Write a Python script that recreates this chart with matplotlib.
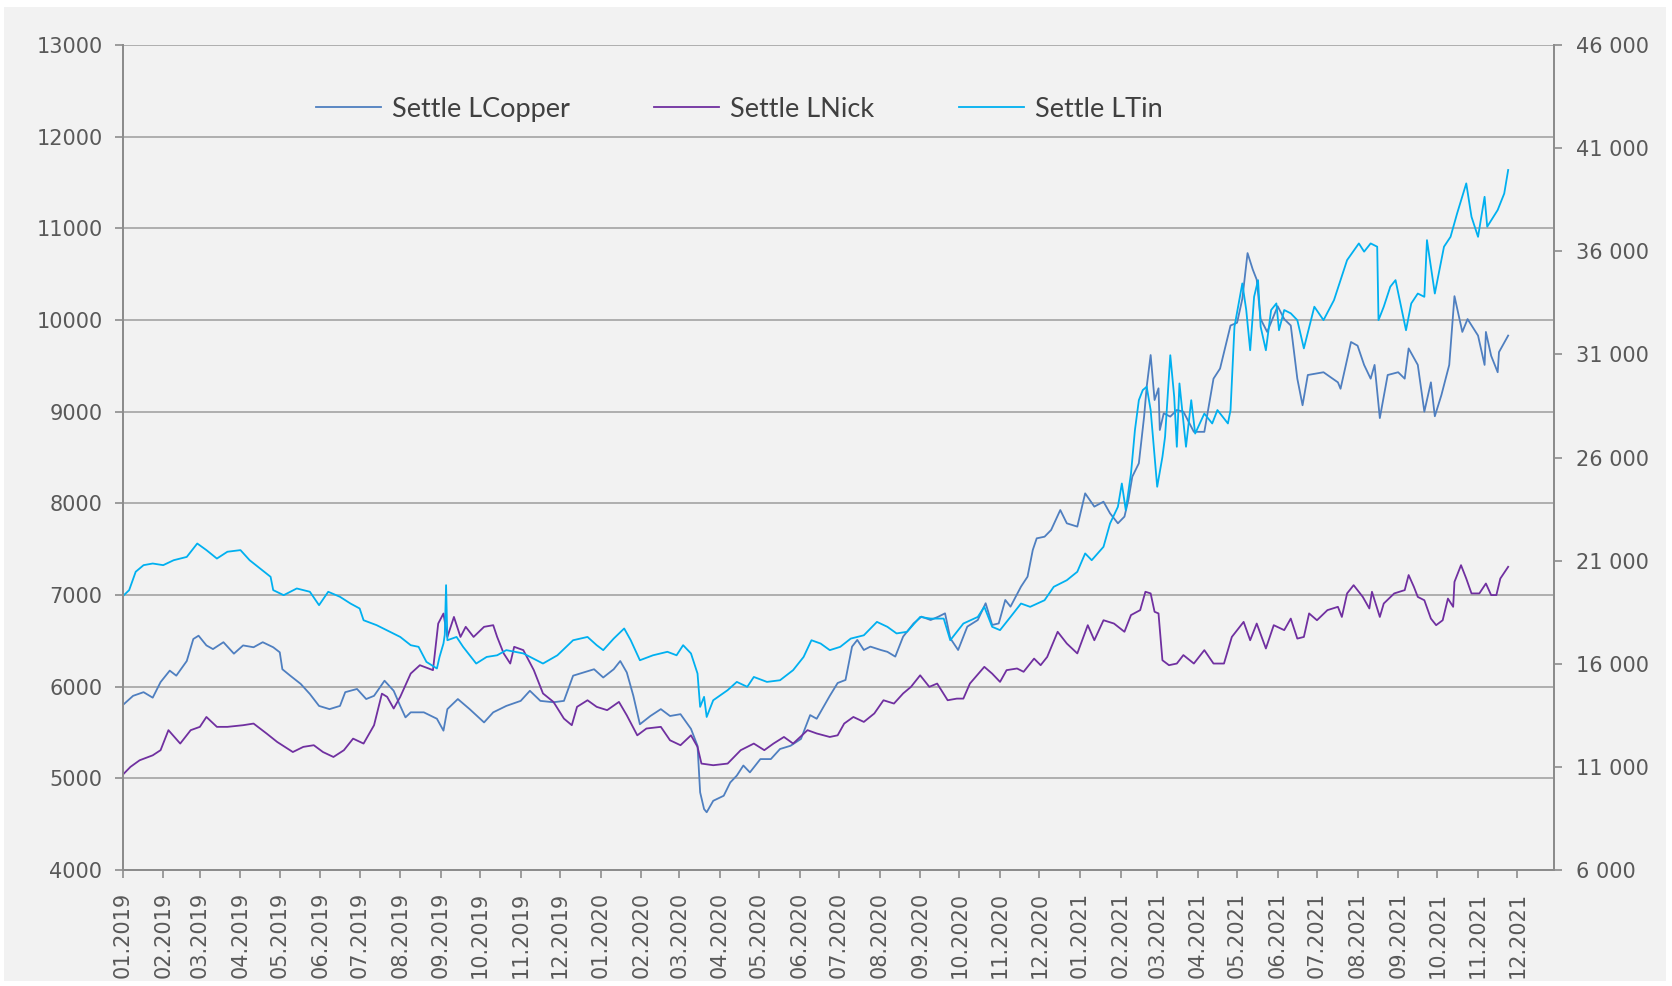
import matplotlib
matplotlib.use("Agg")
import matplotlib.pyplot as plt
import matplotlib.dates as mdates
from matplotlib.ticker import FuncFormatter, MultipleLocator, FixedLocator
import numpy as np
import pandas as pd

START = "2019-01-01"

# ---- data (x = days since 2019-01-01) ----
copper_days = [1, 8, 16, 23, 29, 36, 41, 49, 54, 58, 64, 69, 77, 85, 92, 100, 107, 115, 120, 122,
               128, 136, 143, 150, 158, 166, 170, 179, 186, 192, 200, 207, 212, 216, 220, 230, 240,
               245, 248, 256, 265, 276, 283, 293, 304, 311, 319, 329, 337, 344, 352, 360, 367, 375,
               380, 385, 390, 395, 403, 411, 418, 426, 434, 439, 441, 444, 446, 451, 459, 464, 469,
               474, 479, 487, 495, 502, 510, 518, 525, 530, 536, 540, 546, 552, 557, 561, 566, 571,
               579, 584, 590, 596, 604, 610, 617, 623, 628, 632, 638, 645, 653, 659, 664, 669, 674,
               678, 686, 691, 695, 698, 704, 709, 716, 721, 729, 735, 742, 749, 754, 760, 765, 768,
               771, 776, 780, 782, 785, 788, 791, 792, 795, 800, 805, 810, 818, 826, 833, 838, 846,
               851, 855, 859, 863, 866, 869, 874, 882, 887, 892, 897, 901, 905, 917, 928, 930, 938,
               943, 948, 953, 956, 960, 966, 974, 979, 982, 989, 994, 999, 1002, 1007, 1013, 1017,
               1023, 1027, 1035, 1040, 1041, 1045, 1050, 1051, 1058]
copper_vals = [5810, 5900, 5940, 5880, 6050, 6175, 6120, 6280, 6520, 6556, 6450, 6410, 6485, 6360,
               6450, 6430, 6485, 6430, 6375, 6190, 6120, 6030, 5920, 5790, 5755, 5790, 5940, 5975,
               5865, 5900, 6065, 5955, 5790, 5665, 5720, 5720, 5650, 5520, 5755, 5865, 5755, 5610,
               5720, 5790, 5845, 5955, 5845, 5830, 5845, 6120, 6155, 6190, 6100, 6190, 6280, 6155,
               5900, 5590, 5680, 5755, 5680, 5700, 5540, 5355, 4847, 4665, 4630, 4755, 4810, 4955,
               5030, 5140, 5065, 5210, 5210, 5320, 5355, 5430, 5690, 5650, 5800, 5900, 6040, 6073,
               6437, 6510, 6400, 6437, 6400, 6380, 6328, 6546, 6690, 6764, 6727, 6764, 6800, 6528,
               6400, 6655, 6727, 6910, 6673, 6690, 6946, 6873, 7091, 7200, 7491, 7618, 7636, 7709,
               7927, 7782, 7746, 8109, 7964, 8018, 7891, 7782, 7855, 8036, 8291, 8437, 8946, 9273,
               9618, 9127, 9255, 8800, 8982, 8946, 9018, 9000, 8780, 8780, 9360, 9470, 9940, 9970,
               10230, 10730, 10550, 10440, 10010, 9870, 10150, 10010, 9940, 9360, 9070, 9400, 9430,
               9320, 9250, 9760, 9720, 9510, 9360, 9510, 8930, 9400, 9430, 9360, 9690, 9510, 9000,
               9320, 8950, 9180, 9510, 10260, 9870, 10010, 9830, 9510, 9870, 9610, 9430, 9650, 9830]

nickel_days = [1, 6, 13, 23, 29, 35, 44, 52, 59, 64, 72, 80, 92, 100, 110, 118, 130, 138, 146, 153,
               161, 169, 176, 184, 192, 198, 202, 207, 212, 220, 227, 237, 241, 245, 248, 253, 258,
               262, 268, 276, 283, 286, 291, 296, 299, 306, 314, 321, 329, 337, 343, 347, 355, 362,
               370, 379, 385, 393, 400, 411, 418, 426, 434, 439, 442, 451, 462, 472, 482, 490, 497,
               505, 512, 523, 530, 540, 546, 551, 558, 566, 574, 581, 589, 596, 602, 609, 616, 622,
               630, 637, 642, 647, 658, 664, 670, 675, 683, 688, 696, 701, 706, 714, 721, 729, 737,
               742, 749, 757, 765, 770, 777, 781, 785, 788, 791, 794, 799, 805, 810, 818, 826, 833,
               841, 847, 856, 861, 866, 873, 879, 887, 892, 897, 902, 906, 912, 920, 928, 931, 935,
               940, 947, 952, 954, 960, 963, 971, 979, 982, 986, 989, 994, 999, 1003, 1008, 1012,
               1016, 1017, 1022, 1026, 1030, 1036, 1041, 1045, 1049, 1052, 1058]
nickel_vals = [10675, 11000, 11320, 11560, 11810, 12780, 12130, 12780, 12940, 13420, 12940, 12940,
               13020, 13100, 12615, 12210, 11720, 11970, 12050, 11720, 11480, 11810, 12370, 12130,
               13020, 14550, 14395, 13830, 14395, 15525, 15930, 15690, 17950, 18435, 17300, 18270,
               17300, 17790, 17300, 17790, 17870, 17300, 16500, 16010, 16820, 16660, 15690, 14560,
               14150, 13340, 13020, 13910, 14230, 13910, 13750, 14150, 13500, 12530, 12860, 12940,
               12290, 12050, 12530, 11970, 11160, 11080, 11160, 11810, 12130, 11810, 12130, 12450,
               12130, 12780, 12620, 12450, 12530, 13100, 13420, 13180, 13590, 14230, 14070, 14560,
               14880, 15440, 14880, 15040, 14230, 14310, 14310, 15040, 15850, 15520, 15120, 15690,
               15770, 15610, 16250, 15930, 16330, 17550, 16980, 16500, 17870, 17140, 18110, 17950,
               17550, 18360, 18600, 19490, 19410, 18520, 18440, 16170, 15930, 16010, 16420, 16010,
               16660, 16010, 16010, 17300, 18030, 17140, 17950, 16740, 17870, 17630, 18190, 17220,
               17300, 18440, 18110, 18600, 18760, 18270, 19410, 19810, 19240, 18680, 19490, 18270,
               18920, 19410, 19570, 20300, 19730, 19240, 19080, 18190, 17870, 18110, 19160, 18760,
               19970, 20780, 20130, 19410, 19410, 19890, 19330, 19330, 20130, 20700]

tin_days = [1, 5, 10, 16, 23, 31, 39, 49, 57, 64, 72, 80, 90, 97, 105, 113, 115, 123, 133, 143, 150,
            157, 166, 174, 181, 184, 194, 204, 212, 220, 226, 232, 240, 242, 245, 246, 247, 248, 255,
            260, 270, 278, 286, 293, 306, 321, 332, 344, 355, 362, 367, 375, 383, 388, 395, 405, 416,
            423, 428, 434, 439, 441, 444, 446, 451, 462, 469, 477, 482, 492, 502, 512, 520, 526, 533,
            540, 548, 556, 566, 576, 584, 591, 599, 609, 617, 627, 632, 642, 653, 658, 664, 670, 678,
            686, 693, 704, 711, 721, 729, 735, 740, 749, 754, 760, 763, 766, 770, 773, 776, 779, 782,
            785, 790, 794, 796, 800, 803, 805, 807, 812, 816, 819, 826, 832, 836, 844, 846, 849, 855,
            858, 861, 864, 867, 869, 873, 877, 881, 883, 887, 892, 897, 902, 910, 917, 925, 930, 935,
            944, 948, 953, 958, 959, 963, 968, 972, 980, 984, 989, 994, 996, 1002, 1009, 1014, 1019,
            1026, 1030, 1035, 1040, 1042, 1050, 1055, 1058]
tin_vals = [19325, 19570, 20460, 20780, 20860, 20780, 21020, 21180, 21830, 21510, 21100, 21430,
            21510, 21020, 20620, 20215, 19570, 19325, 19650, 19490, 18840, 19490, 19245, 18920,
            18680, 18110, 17870, 17550, 17300, 16900, 16820, 16090, 15770, 16330, 16980, 17400,
            19810, 17140, 17300, 16820, 16010, 16330, 16410, 16660, 16500, 16010, 16410, 17140,
            17300, 16900, 16660, 17220, 17710, 17140, 16170, 16410, 16580, 16410, 16900, 16500,
            15525, 13910, 14395, 13420, 14230, 14720, 15120, 14880, 15360, 15120, 15200, 15690,
            16330, 17140, 16980, 16660, 16820, 17220, 17380, 18030, 17790, 17470, 17550, 18270,
            18190, 18190, 17140, 17950, 18270, 18760, 17790, 17630, 18270, 18920, 18760, 19080,
            19730, 20050, 20460, 21350, 21020, 21670, 22800, 23610, 24740, 23450, 25230, 27326,
            28780, 29270, 29430, 28300, 24580, 26030, 27000, 30960, 28940, 26520, 29590, 26520,
            28780, 27160, 28130, 27650, 28300, 27650, 28300, 32340, 34440, 33150, 31200, 33790,
            34600, 32340, 31200, 33150, 33470, 32170, 33150, 32990, 32660, 31290, 33310, 32660,
            33630, 34600, 35570, 36380, 35980, 36380, 36220, 32660, 33310, 34280, 34600, 32170,
            33470, 33950, 33790, 36540, 33950, 36220, 36700, 37830, 39290, 37670, 36700, 38640,
            37190, 38000, 38800, 39940]

labels = ["Settle LCopper", "Settle LNick", "Settle LTin"]
colors = ["#4F7FC0", "#7030A0", "#00B0F0"]
left_ticks = list(range(4000, 13001, 1000))
right_ticks = list(range(6000, 46001, 5000))


def to_dates(days):
    return pd.Timestamp(START) + pd.to_timedelta(days, unit="D")


W, H = 1672, 986
fig = plt.figure(figsize=(W / 100, H / 100), dpi=100, facecolor="white")
bg = plt.Rectangle((4 / W, 5 / H), 1 - 10 / W, 1 - 12 / H, transform=fig.transFigure,
                   facecolor="#F2F2F2", edgecolor="none", zorder=-10)
fig.add_artist(bg)

ax = fig.add_axes([122.6 / W, 1 - 870 / H, (1554 - 122.6) / W, (870 - 45) / H])
ax.set_facecolor("#F2F2F2")
ax2 = ax.twinx()

l1, = ax.plot(to_dates(copper_days), copper_vals, color=colors[0], lw=1.3)
l2, = ax2.plot(to_dates(nickel_days), nickel_vals, color=colors[1], lw=1.3)
l3, = ax2.plot(to_dates(tin_days), tin_vals, color=colors[2], lw=1.3)

ax.set_ylim(left_ticks[0], left_ticks[-1])
ax2.set_ylim(right_ticks[0], right_ticks[-1])
ax.set_xlim(pd.Timestamp(START), pd.Timestamp("2021-12-29"))

ax.yaxis.set_major_locator(FixedLocator(left_ticks))
ax2.yaxis.set_major_locator(FixedLocator(right_ticks))
ax2.yaxis.set_major_formatter(FuncFormatter(lambda v, p: f"{int(v):,}".replace(",", " ")))
ax.yaxis.set_major_formatter(FuncFormatter(lambda v, p: f"{int(v)}"))

ax.xaxis.set_major_locator(mdates.MonthLocator())
ax.xaxis.set_major_formatter(mdates.DateFormatter("%m.%Y"))

gcol = "#AFAFAF"
ax.set_axisbelow(True)
ax.yaxis.grid(True, color=gcol, lw=1.4)
ax.xaxis.grid(False)

for a in (ax, ax2):
    for s in a.spines.values():
        s.set_color("#8C8C8C")
        s.set_linewidth(1.4)
    a.spines["top"].set_visible(False)
    a.tick_params(direction="out", length=5.5, width=1.2, color="#8C8C8C",
                  labelcolor="#595959", labelsize=15)

ax.tick_params(axis="x", rotation=90, pad=10)
ax.tick_params(axis="y", pad=9)
ax2.tick_params(axis="y", pad=10)
for t in ax.get_xticklabels() + ax.get_yticklabels() + ax2.get_yticklabels():
    t.set_family("DejaVu Sans")

leg = ax2.legend([l1, l2, l3], labels, loc="center left",
                 bbox_to_anchor=(0.135, 0.922), ncol=3, frameon=False,
                 prop={"family": "Lato", "size": 19.5}, handlelength=2.4,
                 handletextpad=0.42, columnspacing=3.1, borderpad=0, borderaxespad=0)
for t in leg.get_texts():
    t.set_color("#404040")

fig.savefig("out.png", dpi=100, facecolor=fig.get_facecolor())
